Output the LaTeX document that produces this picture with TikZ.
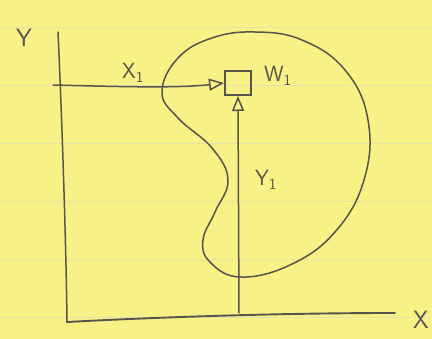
\documentclass[tikz,border=0pt]{standalone}
\usepackage{fontspec}
\setmainfont{DejaVu Sans}
\usetikzlibrary{arrows.meta}
\definecolor{paper}{RGB}{247,241,134}
\definecolor{rule}{RGB}{226,228,170}
\definecolor{pen}{RGB}{85,85,75}
\begin{document}
\begin{tikzpicture}[x=1pt,y=-1pt,
  ink/.style={draw=pen,line width=1.5pt,line cap=round,line join=round},
  lbl/.style={text=pen,font=\fontsize{25}{25}\selectfont\sffamily,inner sep=0pt},
  sub/.style={lbl,font=\fontsize{22}{22}\selectfont\sffamily},
  arr/.style={ink,-{Triangle[open,length=15pt,width=12pt]}}]
\fill[paper] (0,0) rectangle (432,339);
\useasboundingbox (0,0) rectangle (432,339);
\foreach \yy in {27,85,143,201,259,317}{\draw[rule,line width=0.6pt] (0,\yy) -- (432,\yy);}
% axes
\coordinate (ytop) at (58,32);
\coordinate (origin) at (67,322);
\coordinate (xend) at (395,313);
\draw[ink] (ytop) .. controls (62,120) and (66,240) .. (origin);
\draw[ink,line width=1.9pt] (origin) .. controls (180,316) and (300,313) .. (xend);
\node[lbl] (ylab) at (24,38) {Y};
\node[lbl] (xlab) at (421,320) {X};
% blob
\draw[ink] plot[smooth cycle,tension=0.7] coordinates {
 (162,92) (178,58) (212,38) (255,32) (302,40) (345,70) (368,120) (364,180)
 (335,232) (290,265) (240,277) (210,262) (203,240) (215,212) (228,180)
 (212,148) (178,118)};
% box
\node[draw=pen,line width=2pt,minimum width=26pt,minimum height=24pt,inner sep=0pt] (w) at (238,83) {};
\node[sub,anchor=west] (wlab) at (264,76) {W\textsubscript{1}};
% x1 arrow
\coordinate (xs) at (53,85);
\draw[arr] (xs) .. controls (130,87) and (180,88) .. (w.west);
\node[sub] (x1lab) at (133,73) {X\textsubscript{1}};
% y1 arrow
\coordinate (ys) at (239,313);
\draw[arr] (ys) -- (w.south);
\node[sub] (y1lab) at (266,180) {Y\textsubscript{1}};
\end{tikzpicture}
\end{document}
